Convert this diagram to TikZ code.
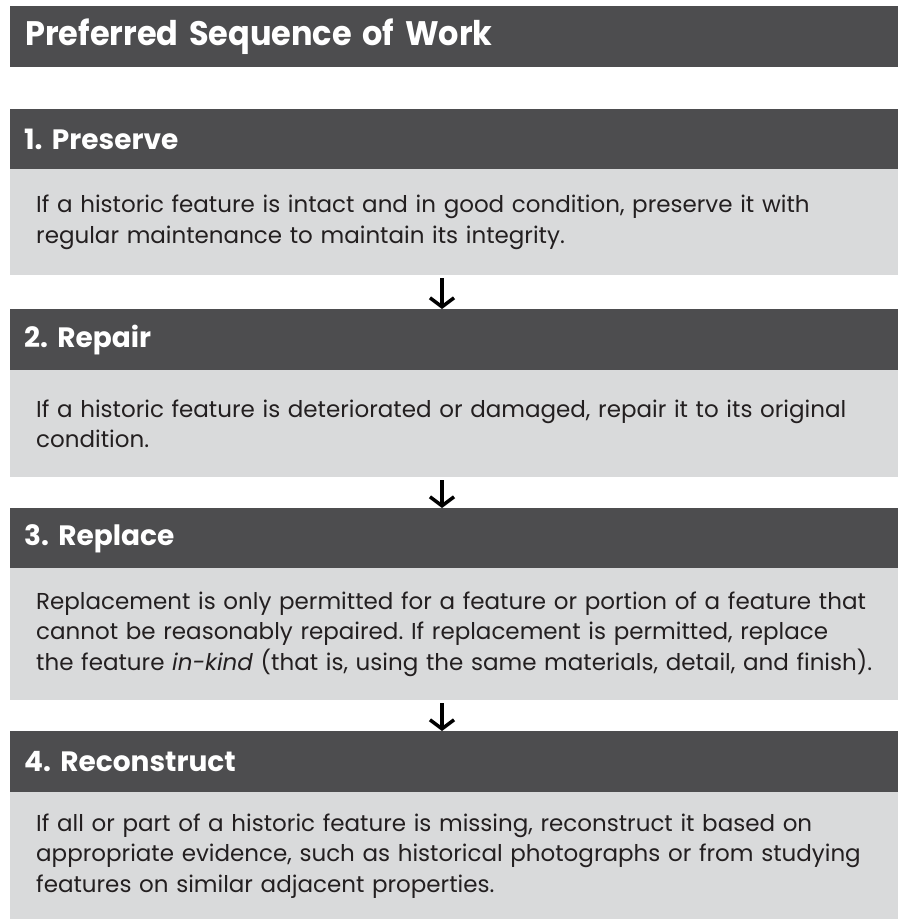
\documentclass[tikz,border=0pt]{standalone}
\usepackage{fontspec}
\setmainfont{Poppins}
\usepackage{graphicx}
\usetikzlibrary{arrows.meta}

\definecolor{bardark}{HTML}{4D4D4F}
\definecolor{boxlight}{HTML}{D9DADB}
\definecolor{inkdark}{HTML}{231F20}

\begin{document}
\frenchspacing
\begin{tikzpicture} [x = 1pt, y = -1pt,
  titlebar/.style = {fill = bardark, text = white, anchor = north west, inner sep = 0pt,
    minimum width = 888pt, minimum height = 61pt, inner xsep = 15pt, align = left, text width = 858pt,
    font = \bfseries\fontsize{34}{40}\selectfont},
  stephead/.style = {fill = bardark, text = white, anchor = north west, inner sep = 0pt,
    minimum width = 888pt, minimum height = 61pt, inner xsep = 14pt, align = left, text width = 860pt,
    font = \bfseries\fontsize{28}{34}\selectfont},
  stepbody/.style = {fill = boxlight, text = inkdark, anchor = north west, inner sep = 0pt,
    minimum width = 888pt, inner xsep = 26pt, align = left, text width = 836pt,
    font = \fontsize{23}{30.5}\selectfont},
  flow/.style = {black, line width = 3.5pt, -{Straight Barb[length = 9pt, width = 24pt]}, shorten <= 3pt}]
\useasboundingbox (0, 0) rectangle (898, 919);
% heading
\node[titlebar] (title) at (10, 6) {\scalebox{0.94}[1]{Preferred Sequence of Work}};
% the four steps
\node[stephead] (h1) at (10, 109) {1. Preserve};
\node[stepbody, minimum height = 106pt] (b1) at (10, 169) {If a historic feature is intact and in good condition, preserve it with\\
regular maintenance to maintain its integrity.};
\node[stephead] (h2) at (10, 309) {2. Repair};
\node[stepbody, minimum height = 107pt] (b2) at (10, 370) {If a historic feature is deteriorated or damaged, repair it to its original\\
condition.};
\node[stephead] (h3) at (10, 508) {3. Replace};
\node[stepbody, minimum height = 132pt] (b3) at (10, 568) {Replacement is only permitted for a feature or portion of a feature that\\
cannot be reasonably repaired. If replacement is permitted, replace\\
the feature \textit{in-kind} (that is, using the same materials, detail, and finish).};
\node[stephead] (h4) at (10, 731) {4. Reconstruct};
\node[stepbody, minimum height = 127pt] (b4) at (10, 792) {If all or part of a historic feature is missing, reconstruct it based on\\
appropriate evidence, such as historical photographs or from studying\\
features on similar adjacent properties.};
% arrows
\coordinate (ax) at (442, 0);
\draw[flow] (b1.south -| ax) -- (h2.north -| ax);
\draw[flow] (b2.south -| ax) -- (h3.north -| ax);
\draw[flow] (b3.south -| ax) -- (h4.north -| ax);
\end{tikzpicture}
\end{document}
